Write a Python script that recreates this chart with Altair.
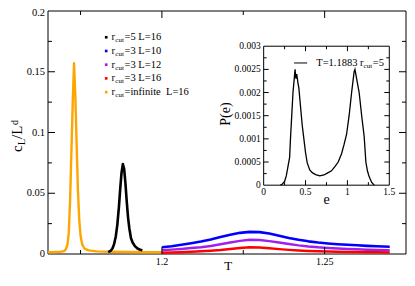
import altair as alt
import pandas as pd

# ---------------- data ----------------
T_INF = [1.165, 1.167, 1.169, 1.1700, 1.1705, 1.1710, 1.1714, 1.1718, 1.1722, 1.1726,
         1.1730, 1.1734, 1.1738, 1.1742, 1.1746, 1.1750, 1.1755, 1.1762, 1.1775, 1.180,
         1.185, 1.190, 1.195, 1.200]
C_INF = [0.0015, 0.0016, 0.0019, 0.0025, 0.0040, 0.0080, 0.0180, 0.0450, 0.0850, 0.1250,
         0.1570, 0.1300, 0.0900, 0.0520, 0.0280, 0.0150, 0.0080, 0.0045, 0.0030, 0.0022,
         0.0018, 0.0016, 0.0015, 0.0014]

T_R5 = [1.1835, 1.1842, 1.1848, 1.1853, 1.1858, 1.1863, 1.1868, 1.1872, 1.1876, 1.1880,
        1.1884, 1.1888, 1.1892, 1.1896, 1.1900, 1.1905, 1.1910, 1.1917, 1.1925, 1.1933, 1.1940]
C_R5 = [0.0015, 0.0025, 0.0045, 0.0080, 0.0140, 0.0240, 0.0390, 0.0540, 0.0670, 0.0740,
        0.0700, 0.0580, 0.0430, 0.0300, 0.0210, 0.0130, 0.0095, 0.0065, 0.0045, 0.0035, 0.0030]

T_R3 = [1.200, 1.203, 1.206, 1.209, 1.212, 1.215, 1.218, 1.221, 1.224, 1.227, 1.230, 1.233,
        1.236, 1.239, 1.242, 1.245, 1.248, 1.251, 1.254, 1.257, 1.260, 1.263, 1.266, 1.270]
C_L10 = [0.0055, 0.0064, 0.0076, 0.0089, 0.0102, 0.0120, 0.0140, 0.0158, 0.0174, 0.0182,
         0.0180, 0.0168, 0.0150, 0.0132, 0.0117, 0.0104, 0.0094, 0.0087, 0.0081, 0.0076,
         0.0072, 0.0067, 0.0063, 0.0060]
C_L12 = [0.0031, 0.0036, 0.0042, 0.0049, 0.0056, 0.0066, 0.0080, 0.0095, 0.0108, 0.0117,
         0.0115, 0.0106, 0.0094, 0.0082, 0.0071, 0.0062, 0.0055, 0.0050, 0.0046, 0.0042,
         0.0039, 0.0036, 0.0033, 0.0031]
C_L16 = [0.0010, 0.0012, 0.0015, 0.0018, 0.0022, 0.0027, 0.0033, 0.0041, 0.0050, 0.0055,
         0.0053, 0.0047, 0.0040, 0.0034, 0.0029, 0.0025, 0.0022, 0.0020, 0.0018, 0.0017,
         0.0016, 0.0015, 0.0014, 0.0013]

SERIES = ["r5_L16", "r3_L10", "r3_L12", "r3_L16", "rinf_L16"]
COLORS = ["#000000", "#0000ff", "#a020f0", "#ff0000", "#ffa500"]
LEGEND_TEXT = ["=5 L=16", "=3 L=10", "=3 L=12", "=3 L=16", "=infinite\u00a0 L=16"]

E_VALS = [0.20, 0.22, 0.25, 0.27, 0.29, 0.31, 0.32, 0.335, 0.35, 0.365, 0.375, 0.385, 0.395,
          0.41, 0.42, 0.44, 0.46, 0.48, 0.50, 0.52, 0.55, 0.58, 0.62, 0.67, 0.72, 0.76, 0.81,
          0.85, 0.89, 0.93, 0.96, 0.99, 1.02, 1.05, 1.07, 1.08, 1.09, 1.10, 1.12, 1.14, 1.17,
          1.20, 1.22, 1.24, 1.26, 1.29, 1.32]
P_VALS = [0.0, 0.00002, 0.00008, 0.0002, 0.0004, 0.0006, 0.0010, 0.0015, 0.0020, 0.0023,
          0.0025, 0.0023, 0.0024, 0.0022, 0.0021, 0.0017, 0.0013, 0.0010, 0.0007, 0.00048,
          0.00033, 0.00027, 0.00023, 0.00020, 0.00022, 0.00026, 0.00031, 0.00040, 0.00050,
          0.00068, 0.00088, 0.0011, 0.0015, 0.0020, 0.0023, 0.00245, 0.0025, 0.0024, 0.0022,
          0.0020, 0.0015, 0.00105, 0.0005, 0.0003, 0.00018, 0.00006, 0.0]

X_DOMAIN = [1.165, 1.275]
Y_DOMAIN = [0, 0.2]
X_TICKS = [1.2, 1.25]
X_LABELS = ["1.2", "1.25"]
X_MINOR = [1.175, 1.225]
Y_TICKS = [0, 0.05, 0.1, 0.15, 0.2]
Y_LABELS = ["0", "0.05", "0.1", "0.15", "0.2"]
Y_MAJOR_IN = [0.05, 0.1, 0.15]
Y_MINOR = [0.025, 0.075, 0.125, 0.175]

IX_DOMAIN = [0, 1.5]
IY_DOMAIN = [0, 0.003]
IX_TICKS = [0, 0.5, 1, 1.5]
IX_LABELS = ["0", "0.5", "1", "1.5"]
IX_MAJOR_IN = [0.5, 1]
IX_MINOR = [0.25, 0.75, 1.25]
IY_TICKS = [0, 0.0005, 0.001, 0.0015, 0.002, 0.0025, 0.003]
IY_LABELS = ["0", "0.0005", "0.001", "0.0015", "0.002", "0.0025", "0.003"]
IY_MAJOR_IN = [0.0005, 0.001, 0.0015, 0.002, 0.0025]
IY_MINOR = [0.00025, 0.00075, 0.00125, 0.00175, 0.00225, 0.00275]

# ---------------- layout ----------------
W, H = 358, 243
PAD = {"left": 40, "top": 3, "right": 1, "bottom": 20}
FONT = "Liberation Serif"


def mx(px):
    """reference page x -> plot x"""
    return (px - 48) * W / 364.7


def my(py):
    """reference page y -> plot y"""
    return (py - 4.7) * H / 255.3


INSET_X_RANGE = [mx(267.7), mx(395.7)]
INSET_Y_RANGE = [my(187.7), my(41.7)]

xs = alt.Scale(domain=X_DOMAIN, nice=False, zero=False)
ys = alt.Scale(domain=Y_DOMAIN, nice=False)
ixs = alt.Scale(domain=IX_DOMAIN, range=INSET_X_RANGE, nice=False)
iys = alt.Scale(domain=IY_DOMAIN, range=INSET_Y_RANGE, nice=False)

rows = []
for name, ts, cs in [("rinf_L16", T_INF, C_INF), ("r5_L16", T_R5, C_R5),
                     ("r3_L10", T_R3, C_L10), ("r3_L12", T_R3, C_L12), ("r3_L16", T_R3, C_L16)]:
    for i, (t, c) in enumerate(zip(ts, cs)):
        rows.append({"T": t, "c": c, "series": name, "i": i})
main_df = pd.DataFrame(rows)
one = pd.DataFrame({"k": [0]})

lines = alt.Chart(main_df).mark_line(strokeJoin="round").encode(
    x=alt.X("T:Q", scale=xs, axis=None),
    y=alt.Y("c:Q", scale=ys, axis=None),
    color=alt.Color("series:N", scale=alt.Scale(domain=SERIES, range=COLORS), legend=None),
    strokeWidth=alt.StrokeWidth("series:N",
                                scale=alt.Scale(domain=SERIES, range=[2.6, 2.4, 2.4, 3.2, 2.8]),
                                legend=None),
    order="i:Q",
)


def frame(sx, sy, dx, dy, fill):
    return alt.Chart(one).mark_rect(fill=fill, stroke="black", strokeWidth=1).encode(
        x=alt.XDatum(dx[0], scale=sx, axis=None), x2=alt.X2Datum(dx[1]),
        y=alt.YDatum(dy[0], scale=sy, axis=None), y2=alt.Y2Datum(dy[1]),
    )


def ticks(vals, side, length, sx, sy, dom_x, dom_y):
    df = pd.DataFrame({"v": vals})
    if side in ("bottom", "top"):
        yv = dom_y[0] if side == "bottom" else dom_y[1]
        off = -length if side == "bottom" else length
        return alt.Chart(df).mark_rule(color="black", strokeWidth=1, y2Offset=off).encode(
            x=alt.X("v:Q", scale=sx, axis=None),
            y=alt.YDatum(yv, scale=sy, axis=None),
            y2=alt.Y2Datum(yv),
        )
    xv = dom_x[0] if side == "left" else dom_x[1]
    off = length if side == "left" else -length
    return alt.Chart(df).mark_rule(color="black", strokeWidth=1, x2Offset=off).encode(
        y=alt.Y("v:Q", scale=sy, axis=None),
        x=alt.XDatum(xv, scale=sx, axis=None),
        x2=alt.X2Datum(xv),
    )


def xlabels(vals, texts, sx, sy, ybase, size, dy):
    df = pd.DataFrame({"v": vals, "t": texts})
    return alt.Chart(df).mark_text(font=FONT, fontSize=size, color="black", align="center",
                                   baseline="top", dy=dy).encode(
        x=alt.X("v:Q", scale=sx, axis=None), y=alt.YDatum(ybase, scale=sy, axis=None),
        text="t:N")


def ylabels(vals, texts, sx, sy, xbase, size, dx):
    df = pd.DataFrame({"v": vals, "t": texts})
    return alt.Chart(df).mark_text(font=FONT, fontSize=size, color="black", align="right",
                                   baseline="middle", dx=dx).encode(
        y=alt.Y("v:Q", scale=sy, axis=None), x=alt.XDatum(xbase, scale=sx, axis=None),
        text="t:N")


def label(text, x, y, size, angle=0, baseline="alphabetic", align="left"):
    return alt.Chart(one).mark_text(text=text, font=FONT, fontSize=size, color="black",
                                    angle=angle, baseline=baseline, align=align).encode(
        x=alt.value(x), y=alt.value(y))


main_ticks = []
for side in ("bottom", "top"):
    main_ticks.append(ticks(X_TICKS, side, 7, xs, ys, X_DOMAIN, Y_DOMAIN))
    main_ticks.append(ticks(X_MINOR, side, 4, xs, ys, X_DOMAIN, Y_DOMAIN))
for side in ("left", "right"):
    main_ticks.append(ticks(Y_MAJOR_IN, side, 7, xs, ys, X_DOMAIN, Y_DOMAIN))
    main_ticks.append(ticks(Y_MINOR, side, 4, xs, ys, X_DOMAIN, Y_DOMAIN))

ylab_low = ylabels(Y_TICKS[:-1], Y_LABELS[:-1], xs, ys, X_DOMAIN[0], 10.5, -3)
ylab_top = alt.Chart(pd.DataFrame({"v": Y_TICKS[-1:], "t": Y_LABELS[-1:]})).mark_text(
    font=FONT, fontSize=10.5, color="black", align="right", baseline="middle", dx=-3, dy=1.5
).encode(y=alt.Y("v:Q", scale=ys, axis=None), x=alt.XDatum(X_DOMAIN[0], scale=xs, axis=None),
         text="t:N")

main_labels = [
    xlabels(X_TICKS, X_LABELS, xs, ys, Y_DOMAIN[0], 10, 3),
    ylab_low, ylab_top,
    label("T", mx(231.7), H + 12, 13, baseline="middle", align="center"),
]

# y-axis title c_L / L^d (rotated, reads bottom-to-top)
ytitle = [
    label("c", -26, 141, 15, angle=270),
    label("L", -23.5, 134, 10, angle=270),
    label("/L", -26, 128, 15, angle=270),
    label("d", -30, 114, 10, angle=270),
]

# legend
leg_df = pd.DataFrame({"label": LEGEND_TEXT, "color": COLORS, "idx": list(range(len(LEGEND_TEXT)))})
leg_base = alt.Chart(leg_df).transform_calculate(
    py=f"{my(32.3)} + datum.idx * {14.4 * H / 255.3}")
leg_marks = leg_base.mark_square(size=7, opacity=1).encode(
    x=alt.value(mx(107.3)), y=alt.Y("py:Q", scale=None, axis=None),
    color=alt.Color("color:N", scale=None))
leg_r = leg_base.mark_text(text="r", font=FONT, fontSize=10.5, align="left", baseline="middle",
                           color="black").encode(
    x=alt.value(mx(112.7)), y=alt.Y("py:Q", scale=None, axis=None))
leg_cut = leg_base.mark_text(text="cut", font=FONT, fontSize=7, align="left", baseline="middle",
                             dy=3, color="black").encode(
    x=alt.value(mx(112.7) + 3.8), y=alt.Y("py:Q", scale=None, axis=None))
leg_txt = leg_base.mark_text(font=FONT, fontSize=10.5, align="left", baseline="middle",
                             color="black").encode(
    x=alt.value(mx(112.7) + 13), y=alt.Y("py:Q", scale=None, axis=None), text="label:N")

main = alt.layer(frame(xs, ys, X_DOMAIN, Y_DOMAIN, "transparent"), lines, *main_ticks,
                 *main_labels, *ytitle, leg_marks, leg_r, leg_cut, leg_txt)

# ---------------- inset ----------------
inset_df = pd.DataFrame({"e": E_VALS, "P": P_VALS})
curve = alt.Chart(inset_df).mark_line(color="black", strokeWidth=1.3).encode(
    x=alt.X("e:Q", scale=ixs, axis=None),
    y=alt.Y("P:Q", scale=iys, axis=None),
)

inset_ticks = []
for side in ("bottom", "top"):
    inset_ticks.append(ticks(IX_MAJOR_IN, side, 5, ixs, iys, IX_DOMAIN, IY_DOMAIN))
    inset_ticks.append(ticks(IX_MINOR, side, 3, ixs, iys, IX_DOMAIN, IY_DOMAIN))
for side in ("left", "right"):
    inset_ticks.append(ticks(IY_MAJOR_IN, side, 5, ixs, iys, IX_DOMAIN, IY_DOMAIN))
    inset_ticks.append(ticks(IY_MINOR, side, 3, ixs, iys, IX_DOMAIN, IY_DOMAIN))

inset_labels = [
    xlabels(IX_TICKS, IX_LABELS, ixs, iys, IY_DOMAIN[0], 9.5, 2),
    ylabels(IY_TICKS, IY_LABELS, ixs, iys, IX_DOMAIN[0], 9.5, -3),
    label("e", mx(331.7), my(203), 14, baseline="middle", align="center"),
    label("P(e)", mx(229), my(113), 14, angle=270, baseline="middle", align="center"),
]

ileg_y = my(59.3)
ileg_line = alt.Chart(one).mark_rule(color="black", strokeWidth=1).encode(
    x=alt.value(mx(298.7)), x2=alt.value(mx(312)), y=alt.value(ileg_y))
ileg_x = mx(321.3)
ileg = [
    label("T=1.1883 r", ileg_x, ileg_y, 10.5, baseline="middle"),
    label("cut", ileg_x + 47.3, ileg_y + 3, 7, baseline="middle"),
    label("=5", ileg_x + 56.5, ileg_y, 10.5, baseline="middle"),
]

inset = alt.layer(frame(ixs, iys, IX_DOMAIN, IY_DOMAIN, "white"), curve, *inset_ticks,
                  *inset_labels, ileg_line, *ileg)

chart = alt.layer(main, inset).resolve_scale(x="independent", y="independent").properties(
    width=W, height=H,
    autosize=alt.AutoSizeParams(type="none"),
    padding=PAD,
).configure_view(stroke=None)

chart.save("out.html", embed_options={"renderer": "svg", "actions": False})
